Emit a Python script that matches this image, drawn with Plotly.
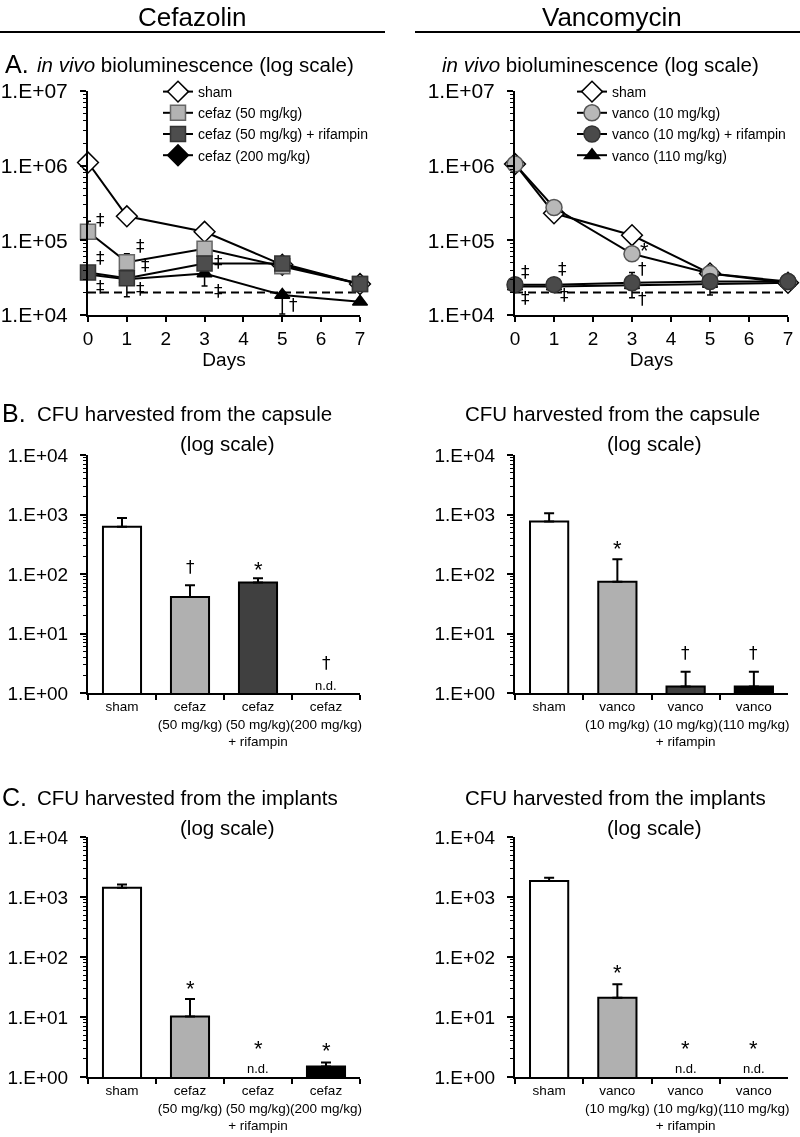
import plotly.graph_objects as go

# ---------------- data ----------------
days = [0, 1, 3, 5, 7]

cef_sham = [1.1e6, 2.1e5, 1.3e5, 4.7e4, 2.6e4]
cef_50 = [1.3e5, 5.1e4, 7.7e4, 4.5e4, 2.6e4]
cef_50_plus = [5e4, 1.5e4, 1.8e4, 4e3, 3e3]
cef_50_minus = [2e4, 8e3, 1e4, 4e3, 3e3]
cef_50_rif = [3.7e4, 3.1e4, 4.9e4, 4.9e4, 2.6e4]
cef_50_rif_plus = [5e3, 4e3, 8e3, 4e3, 3e3]
cef_50_rif_minus = [5e3, 1.35e4, 8e3, 4e3, 3e3]
cef_200 = [3.5e4, 3.0e4, 3.6e4, 1.85e4, 1.5e4]
cef_200_plus = [3e3, 3e3, 3e3, 2e3, 1e3]
cef_200_minus = [3e3, 3e3, 1.15e4, 8.2e3, 1e3]

van_sham = [1.05e6, 2.3e5, 1.17e5, 3.6e4, 2.7e4]
van_10 = [1.05e6, 2.75e5, 6.6e4, 3.6e4, 2.8e4]
van_10_rif = [2.55e4, 2.55e4, 2.7e4, 2.8e4, 2.8e4]
van_10_rif_plus = [2e3, 2e3, 1.0e4, 3e3, 2e3]
van_10_rif_minus = [2e3, 2e3, 3e3, 3e3, 2e3]
van_110 = [2.4e4, 2.4e4, 2.5e4, 2.6e4, 2.7e4]
van_110_plus = [1e3, 1e3, 1e3, 1e3, 1e3]
van_110_minus = [2e3, 2e3, 8e3, 7.5e3, 2e3]

detection_days = [0, 7]
detection_limit = [2e4, 2e4]

cef_groups = ["sham", "cefaz<br>(50 mg/kg)", "cefaz<br>(50 mg/kg)<br>+ rifampin", "cefaz<br>(200 mg/kg)"]
van_groups = ["sham", "vanco<br>(10 mg/kg)", "vanco<br>(10 mg/kg)<br>+ rifampin", "vanco<br>(110 mg/kg)"]

cef_capsule = [620, 41, 72, None]
cef_capsule_err = [250, 24, 13, None]
van_capsule = [760, 74, 1.28, 1.28]
van_capsule_err = [290, 103, 1.0, 1.0]
cef_implant = [1420, 10.2, None, 1.5]
cef_implant_err = [200, 9.8, None, 0.25]
van_implant = [1850, 21, None, None]
van_implant_err = [250, 14, None, None]

bar_colors = ["white", "#b0b0b0", "#404040", "black"]

line_ytick_vals = [1e4, 1e5, 1e6, 1e7]
line_ytick_text = ["1.E+04", "1.E+05", "1.E+06", "1.E+07"]
bar_ytick_vals = [1, 10, 100, 1000, 10000]
bar_ytick_text = ["1.E+00", "1.E+01", "1.E+02", "1.E+03", "1.E+04"]

# significance marks: (x, log10 y, text)
sig_A_left = [(0.33, 5.27, "‡"), (0.33, 4.77, "‡"), (0.33, 4.37, "‡"),
              (1.34, 4.93, "‡"), (1.47, 4.67, "‡"), (1.34, 4.35, "‡"),
              (3.35, 4.71, "‡"), (3.35, 4.32, "‡"), (5.3, 4.13, "†"), (7.33, 4.13, "‡")]
sig_A_right = [(0.26, 4.57, "‡"), (0.26, 4.23, "‡"), (1.23, 4.61, "‡"), (1.28, 4.27, "‡"),
               (3.33, 4.86, "*"), (3.28, 4.61, "†"), (3.28, 4.22, "†")]
sig_B_left = [(1, 2.12, "†"), (2, 2.08, "*"), (3, 0.5, "†"), (3, 0.13, "n.d.")]
sig_B_right = [(1, 2.43, "*"), (2, 0.67, "†"), (3, 0.67, "†")]
sig_C_left = [(1, 1.47, "*"), (2, 0.47, "*"), (2, 0.15, "n.d."), (3, 0.45, "*")]
sig_C_right = [(1, 1.75, "*"), (2, 0.47, "*"), (2, 0.15, "n.d."), (3, 0.47, "*"), (3, 0.15, "n.d.")]

# ---------------- helpers ----------------
W, H = 800, 1137
FONT = "Liberation Sans, Arial, sans-serif"
SIGFONT = "DejaVu Sans, Liberation Sans, sans-serif"


def fx(p):
    return p / W


def fy(p):
    return 1 - p / H


fig = go.Figure()


def add_line(name, y, xa, ya, legend, rank, symbol, fill, outline, size,
             plus=None, minus=None, showlegend=True):
    err = None
    if plus is not None:
        err = dict(type="data", symmetric=False, array=plus, arrayminus=minus,
                   color="black", thickness=1.5, width=3)
    fig.add_trace(go.Scatter(
        x=days, y=y, name=name, mode="lines+markers", xaxis=xa, yaxis=ya,
        line=dict(color="black", width=2),
        marker=dict(symbol=symbol, color=fill, size=size, line=dict(color=outline, width=1.5)),
        error_y=err, legend=legend, legendrank=rank, showlegend=showlegend,
        cliponaxis=False))


def add_legend_only(name, xa, ya, legend, rank, symbol, fill, outline, size):
    fig.add_trace(go.Scatter(
        x=[None], y=[None], name=name, mode="lines+markers", xaxis=xa, yaxis=ya,
        line=dict(color="black", width=2),
        marker=dict(symbol=symbol, color=fill, size=size, line=dict(color=outline, width=1.5)),
        legend=legend, legendrank=rank))


def add_dashed(xa, ya):
    fig.add_trace(go.Scatter(x=detection_days, y=detection_limit, mode="lines", xaxis=xa, yaxis=ya,
                             line=dict(color="black", width=2, dash="8px,5px"), showlegend=False,
                             hoverinfo="skip"))


# Panel A left (cefazolin)
add_dashed("x", "y")
add_line("cefaz (200 mg/kg)", cef_200, "x", "y", "legend", 4, "triangle-up", "black", "black", 13,
         cef_200_plus, cef_200_minus, showlegend=False)
add_line("sham", cef_sham, "x", "y", "legend", 1, "diamond", "white", "black", 16)
add_line("cefaz (50 mg/kg)", cef_50, "x", "y", "legend", 2, "square", "#b3b3b3", "#666666", 15,
         cef_50_plus, cef_50_minus)
add_line("cefaz (50 mg/kg) + rifampin", cef_50_rif, "x", "y", "legend", 3, "square", "#4d4d4d", "#333333", 15,
         cef_50_rif_plus, cef_50_rif_minus)
add_legend_only("cefaz (200 mg/kg)", "x", "y", "legend", 4, "diamond", "black", "black", 16)

# Panel A right (vancomycin)
add_dashed("x2", "y2")
add_line("vanco (110 mg/kg)", van_110, "x2", "y2", "legend2", 4, "triangle-up", "black", "black", 13,
         van_110_plus, van_110_minus)
add_line("sham", van_sham, "x2", "y2", "legend2", 1, "diamond", "white", "black", 16)
add_line("vanco (10 mg/kg)", van_10, "x2", "y2", "legend2", 2, "circle", "#b8b8b8", "#555555", 16)
add_line("vanco (10 mg/kg) + rifampin", van_10_rif, "x2", "y2", "legend2", 3, "circle", "#4a4a4a", "#333333", 16,
         van_10_rif_plus, van_10_rif_minus)


def add_bars(groups, vals, errs, xa, ya):
    fig.add_trace(go.Bar(
        x=groups, y=vals, xaxis=xa, yaxis=ya, width=0.56,
        marker=dict(color=bar_colors, line=dict(color="black", width=2)),
        error_y=dict(type="data", symmetric=False, array=errs, arrayminus=[0] * len(errs),
                     color="black", thickness=2, width=5),
        showlegend=False))


add_bars(cef_groups, cef_capsule, cef_capsule_err, "x3", "y3")
add_bars(van_groups, van_capsule, van_capsule_err, "x4", "y4")
add_bars(cef_groups, cef_implant, cef_implant_err, "x5", "y5")
add_bars(van_groups, van_implant, van_implant_err, "x6", "y6")

# ---------------- axes ----------------
ax_common = dict(showline=True, linecolor="black", linewidth=2, showgrid=False, zeroline=False,
                 ticks="outside", tickcolor="black", tickwidth=1.5, automargin=False)


def ylog(domain, rng, vals, text, size, anchor):
    return dict(domain=domain, type="log", range=rng, tickmode="array", tickvals=vals, ticktext=text,
                ticklen=6, tickfont=dict(size=size, color="black", family=FONT), anchor=anchor,
                ticklabelstandoff=8,
                minor=dict(ticks="outside", ticklen=3, tickcolor="black", tickwidth=1, dtick="D1", showgrid=False),
                **ax_common)


def xdays(domain, anchor):
    return dict(domain=domain, range=[0, 7], dtick=1, ticklen=5, anchor=anchor,
                tickfont=dict(size=19, color="black", family=FONT),
                title=dict(text="Days", standoff=0, font=dict(size=19, color="black", family=FONT)),
                **ax_common)


def xcat(domain, anchor):
    return dict(domain=domain, type="category", range=[-0.5, 3.5], tickson="boundaries", ticklen=5,
                tickangle=0, anchor=anchor, tickfont=dict(size=13.5, color="black", family=FONT),
                **ax_common)


dL = [fx(88), fx(360)]
dR = [fx(515), fx(788)]
yA = [fy(315), fy(91)]
yB = [fy(693), fy(455)]
yC = [fy(1077), fy(837)]

fig.update_layout(
    width=W, height=H, margin=dict(l=0, r=0, t=0, b=0, autoexpand=False),
    paper_bgcolor="white", plot_bgcolor="white",
    font=dict(family=FONT, color="black"),
    xaxis=xdays(dL, "y"), yaxis=ylog(yA, [4, 7], line_ytick_vals, line_ytick_text, 21, "x"),
    xaxis2=xdays(dR, "y2"), yaxis2=ylog(yA, [4, 7], line_ytick_vals, line_ytick_text, 21, "x2"),
    xaxis3=xcat(dL, "y3"), yaxis3=ylog(yB, [0, 4], bar_ytick_vals, bar_ytick_text, 19, "x3"),
    xaxis4=xcat(dR, "y4"), yaxis4=ylog(yB, [0, 4], bar_ytick_vals, bar_ytick_text, 19, "x4"),
    xaxis5=xcat(dL, "y5"), yaxis5=ylog(yC, [0, 4], bar_ytick_vals, bar_ytick_text, 19, "x5"),
    xaxis6=xcat(dR, "y6"), yaxis6=ylog(yC, [0, 4], bar_ytick_vals, bar_ytick_text, 19, "x6"),
    legend=dict(x=fx(158), y=fy(76), xanchor="left", yanchor="top", bgcolor="rgba(0,0,0,0)",
                font=dict(size=14, color="black", family=FONT), tracegroupgap=0),
    legend2=dict(x=fx(572), y=fy(76), xanchor="left", yanchor="top", bgcolor="rgba(0,0,0,0)",
                 font=dict(size=14, color="black", family=FONT), tracegroupgap=0),
    bargap=0.44,
)

# ---------------- text ----------------
ann = []


def txt(x, y, text, size, xanchor="left", yanchor="middle"):
    ann.append(dict(x=fx(x), y=fy(y), xref="paper", yref="paper", text=text, showarrow=False,
                    xanchor=xanchor, yanchor=yanchor, font=dict(size=size, color="black", family=FONT)))


txt(192, 17, "Cefazolin", 26, "center")
txt(612, 17, "Vancomycin", 26, "center")
txt(3, 64, "A.", 25)
txt(35, 64, "<i>in vivo</i> bioluminescence (log scale)", 20.5)
txt(440, 64, "<i>in vivo</i> bioluminescence (log scale)", 20.5)
txt(0, 413, "B.", 25)
txt(35, 413, "CFU harvested from the capsule", 20.5)
txt(227, 443, "(log scale)", 20.5, "center")
txt(463, 413, "CFU harvested from the capsule", 20.5)
txt(654, 443, "(log scale)", 20.5, "center")
txt(0, 797, "C.", 25)
txt(35, 797, "CFU harvested from the implants", 20.5)
txt(227, 827, "(log scale)", 20.5, "center")
txt(463, 797, "CFU harvested from the implants", 20.5)
txt(654, 827, "(log scale)", 20.5, "center")


def sig(marks, xa, ya):
    for x, y, t in marks:
        if t == "n.d.":
            size, fam = 13, FONT
        elif t == "*":
            size, fam = 22, FONT
        else:
            size, fam = 17, SIGFONT
        ann.append(dict(x=x, y=y, xref=xa, yref=ya, text=t, showarrow=False,
                        xanchor="center", yanchor="middle",
                        font=dict(size=size, color="black", family=fam)))


sig(sig_A_left, "x", "y")
sig(sig_A_right, "x2", "y2")
sig(sig_B_left, "x3", "y3")
sig(sig_B_right, "x4", "y4")
sig(sig_C_left, "x5", "y5")
sig(sig_C_right, "x6", "y6")

fig.update_layout(annotations=ann)

fig.add_shape(type="line", xref="paper", yref="paper", x0=0, x1=fx(385), y0=fy(32), y1=fy(32),
              line=dict(color="black", width=2))
fig.add_shape(type="line", xref="paper", yref="paper", x0=fx(415), x1=1, y0=fy(32), y1=fy(32),
              line=dict(color="black", width=2))

fig.write_html(
    "out.html",
    config={"displayModeBar": False},
    post_script=("document.body.style.margin='0px';"
                 "document.querySelectorAll('.plotly-graph-div').forEach(function(d){d.style.filter='grayscale(1)';});"),
)
